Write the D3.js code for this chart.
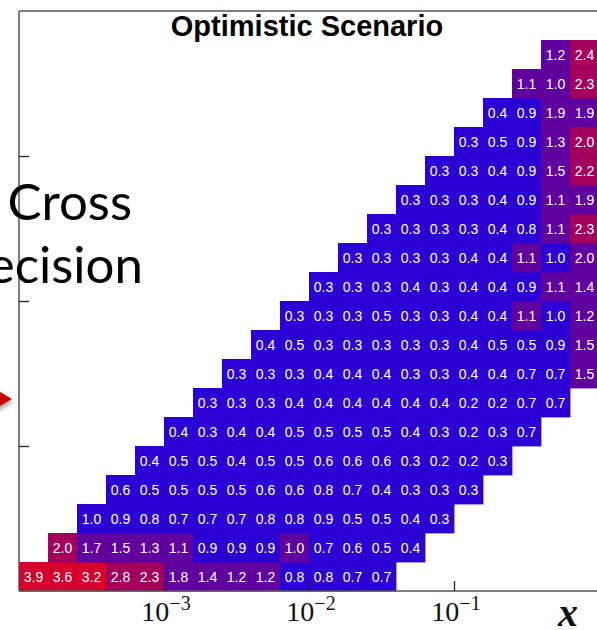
<!DOCTYPE html>
<html>
<head>
<meta charset="utf-8">
<script src="https://cdn.jsdelivr.net/npm/d3@7"></script>
<style>
  html, body { margin: 0; padding: 0; background: #fff; }
  svg { display: block; }
</style>
</head>
<body>
<svg id="chart" width="597" height="630"></svg>
<script>
// ---- data (rows from the lowest y-bin upward) ----
// each row: first x-bin index where cells start, then the cell values
const rowStart = [0, 1, 2, 3, 4, 5, 6, 7, 8, 9, 10, 11, 12, 13, 14, 15, 16, 17, 18];
const row0  = [3.9, 3.6, 3.2, 2.8, 2.3, 1.8, 1.4, 1.2, 1.2, 0.8, 0.8, 0.7, 0.7];
const row1  = [2.02, 1.7, 1.5, 1.3, 1.1, 0.9, 0.9, 0.9, 1.02, 0.7, 0.6, 0.5, 0.4];
const row2  = [0.98, 0.9, 0.8, 0.7, 0.7, 0.7, 0.8, 0.8, 0.9, 0.5, 0.5, 0.4, 0.3];
const row3  = [0.6, 0.5, 0.5, 0.5, 0.5, 0.6, 0.6, 0.8, 0.7, 0.4, 0.3, 0.3, 0.3];
const row4  = [0.4, 0.5, 0.5, 0.4, 0.5, 0.5, 0.6, 0.6, 0.6, 0.3, 0.2, 0.2, 0.3];
const row5  = [0.4, 0.3, 0.4, 0.4, 0.5, 0.5, 0.5, 0.5, 0.4, 0.3, 0.2, 0.3, 0.7];
const row6  = [0.3, 0.3, 0.3, 0.4, 0.4, 0.4, 0.4, 0.4, 0.4, 0.2, 0.2, 0.7, 0.7];
const row7  = [0.3, 0.3, 0.3, 0.4, 0.4, 0.4, 0.3, 0.3, 0.4, 0.4, 0.7, 0.7, 1.5];
const row8  = [0.4, 0.5, 0.3, 0.3, 0.3, 0.3, 0.3, 0.4, 0.5, 0.5, 0.9, 1.5];
const row9  = [0.3, 0.3, 0.3, 0.5, 0.3, 0.3, 0.4, 0.4, 1.1, 0.98, 1.2];
const row10 = [0.3, 0.3, 0.3, 0.4, 0.3, 0.4, 0.4, 0.9, 1.1, 1.4];
const row11 = [0.3, 0.3, 0.3, 0.3, 0.4, 0.4, 1.1, 0.98, 1.97];
const row12 = [0.3, 0.3, 0.3, 0.3, 0.4, 0.8, 1.1, 2.3];
const row13 = [0.3, 0.3, 0.3, 0.4, 0.9, 1.1, 1.9];
const row14 = [0.3, 0.3, 0.4, 0.9, 1.5, 2.2];
const row15 = [0.3, 0.5, 0.9, 1.3, 2.0];
const row16 = [0.4, 0.9, 1.9, 1.9];
const row17 = [1.1, 1.02, 2.3];
const row18 = [1.2, 2.4];
const rows = [row0,row1,row2,row3,row4,row5,row6,row7,row8,row9,row10,row11,row12,row13,row14,row15,row16,row17,row18];

// bin layout: 5 bins per decade in both x and Q^2
const xLogMin = -4, xLogMax = 0, binsPerDecade = 5;
const yLogMin = 0, yLogMax = 4;
const xTickValues = [1e-3, 1e-2, 1e-1];
const xTickLabels = ["−3", "−2", "−1"];
const yTickValues = [1e1, 1e2, 1e3];

// colour classes (thresholds on the value)
const colorThresholds = [1, 2, 3];
const colorRange = ["#2b00d4", "#60009e", "#a2005c", "#d6002c"];

// ---- drawing ----
const svg = d3.select("#chart");
const m = { left: 19, right: 599, top: 11, bottom: 591 };

const x = d3.scaleLog().domain([Math.pow(10, xLogMin), Math.pow(10, xLogMax)]).range([m.left, m.right]);
const y = d3.scaleLog().domain([Math.pow(10, yLogMin), Math.pow(10, yLogMax)]).range([m.bottom, m.top]);
const color = d3.scaleThreshold().domain(colorThresholds).range(colorRange);

const cells = [];
rows.forEach((vals, r) => {
  vals.forEach((v, k) => {
    const c = rowStart[r] + k;
    cells.push({
      v,
      x0: Math.pow(10, xLogMin + c / binsPerDecade),
      x1: Math.pow(10, xLogMin + (c + 1) / binsPerDecade),
      y0: Math.pow(10, yLogMin + r / binsPerDecade),
      y1: Math.pow(10, yLogMin + (r + 1) / binsPerDecade)
    });
  });
});

const g = svg.append("g");
g.selectAll("rect.cell").data(cells).join("rect")
  .attr("class", "cell")
  .attr("x", d => x(d.x0))
  .attr("y", d => y(d.y1))
  .attr("width", d => x(d.x1) - x(d.x0) + 0.4)
  .attr("height", d => y(d.y0) - y(d.y1) + 0.4)
  .attr("fill", d => color(d.v));

g.selectAll("text.val").data(cells).join("text")
  .attr("class", "val")
  .attr("x", d => (x(d.x0) + x(d.x1)) / 2)
  .attr("y", d => (y(d.y0) + y(d.y1)) / 2)
  .attr("dy", "0.36em")
  .attr("text-anchor", "middle")
  .attr("fill", "#ffffff")
  .attr("font-family", "Liberation Sans, Arial, sans-serif")
  .attr("font-size", 14)
  .text(d => d3.format(".1f")(d.v));

// frame: left, bottom, top
const axisColor = "#555";
svg.append("line").attr("x1", m.left).attr("x2", m.left).attr("y1", m.top).attr("y2", m.bottom)
  .attr("stroke", axisColor).attr("stroke-width", 1.5);
svg.append("line").attr("x1", m.left).attr("x2", m.right).attr("y1", m.bottom).attr("y2", m.bottom)
  .attr("stroke", axisColor).attr("stroke-width", 1.5);
svg.append("line").attr("x1", m.left).attr("x2", m.right).attr("y1", m.top).attr("y2", m.top)
  .attr("stroke", axisColor).attr("stroke-width", 1.5);

// x axis ticks (inward) via d3 axis
const xAxis = d3.axisTop(x).tickValues(xTickValues).tickSize(10).tickFormat("");
svg.append("g").attr("transform", `translate(0,${m.bottom})`).call(xAxis)
  .call(s => s.select(".domain").remove())
  .call(s => s.selectAll(".tick line").attr("stroke", "#222").attr("stroke-width", 1.3));

const yAxis = d3.axisRight(y).tickValues(yTickValues).tickSize(10).tickFormat("");
svg.append("g").attr("transform", `translate(${m.left},0)`).call(yAxis)
  .call(s => s.select(".domain").remove())
  .call(s => s.selectAll(".tick line").attr("stroke", "#222").attr("stroke-width", 1.3));

// x tick labels 10^n
const xl = svg.append("g").selectAll("text").data(xTickValues).join("text")
  .attr("x", d => x(d) + 2)
  .attr("y", 621)
  .attr("text-anchor", "middle")
  .attr("font-family", "Liberation Serif, Times New Roman, serif")
  .attr("font-size", 28)
  .attr("fill", "#111");
xl.append("tspan").text("10");
xl.append("tspan").attr("dy", -11).attr("font-size", 20).text((d, i) => xTickLabels[i]);

// x axis label
svg.append("text")
  .attr("x", 568).attr("y", 626)
  .attr("text-anchor", "middle")
  .attr("font-family", "Liberation Serif, serif")
  .attr("font-style", "italic").attr("font-weight", "bold")
  .attr("font-size", 40).attr("fill", "#111")
  .text("x");

// title
svg.append("text")
  .attr("x", 307).attr("y", 36)
  .attr("text-anchor", "middle")
  .attr("font-family", "Liberation Sans, Arial, sans-serif")
  .attr("font-weight", "bold")
  .attr("font-size", 29).attr("fill", "#000")
  .text("Optimistic Scenario");

// slide overlay text
svg.append("text")
  .attr("x", 132).attr("y", 220)
  .attr("text-anchor", "end")
  .attr("font-family", "Lato, sans-serif")
  .attr("font-size", 51).attr("fill", "#000")
  .text("Cross");
svg.append("text")
  .attr("x", 143).attr("y", 283)
  .attr("text-anchor", "end")
  .attr("font-family", "Lato, sans-serif")
  .attr("font-size", 51).attr("fill", "#000")
  .text("Precision");

// red arrow head
const defs = svg.append("defs");
const f = defs.append("filter").attr("id", "sh").attr("x", "-50%").attr("y", "-50%").attr("width", "200%").attr("height", "200%");
f.append("feDropShadow").attr("dx", 1).attr("dy", 3).attr("stdDeviation", 2).attr("flood-color", "#000").attr("flood-opacity", 0.35);
svg.append("path")
  .attr("d", "M-12,385 L12,399 L-12,413 Z")
  .attr("fill", "#cc0000")
  .attr("filter", "url(#sh)");
</script>
</body>
</html>
